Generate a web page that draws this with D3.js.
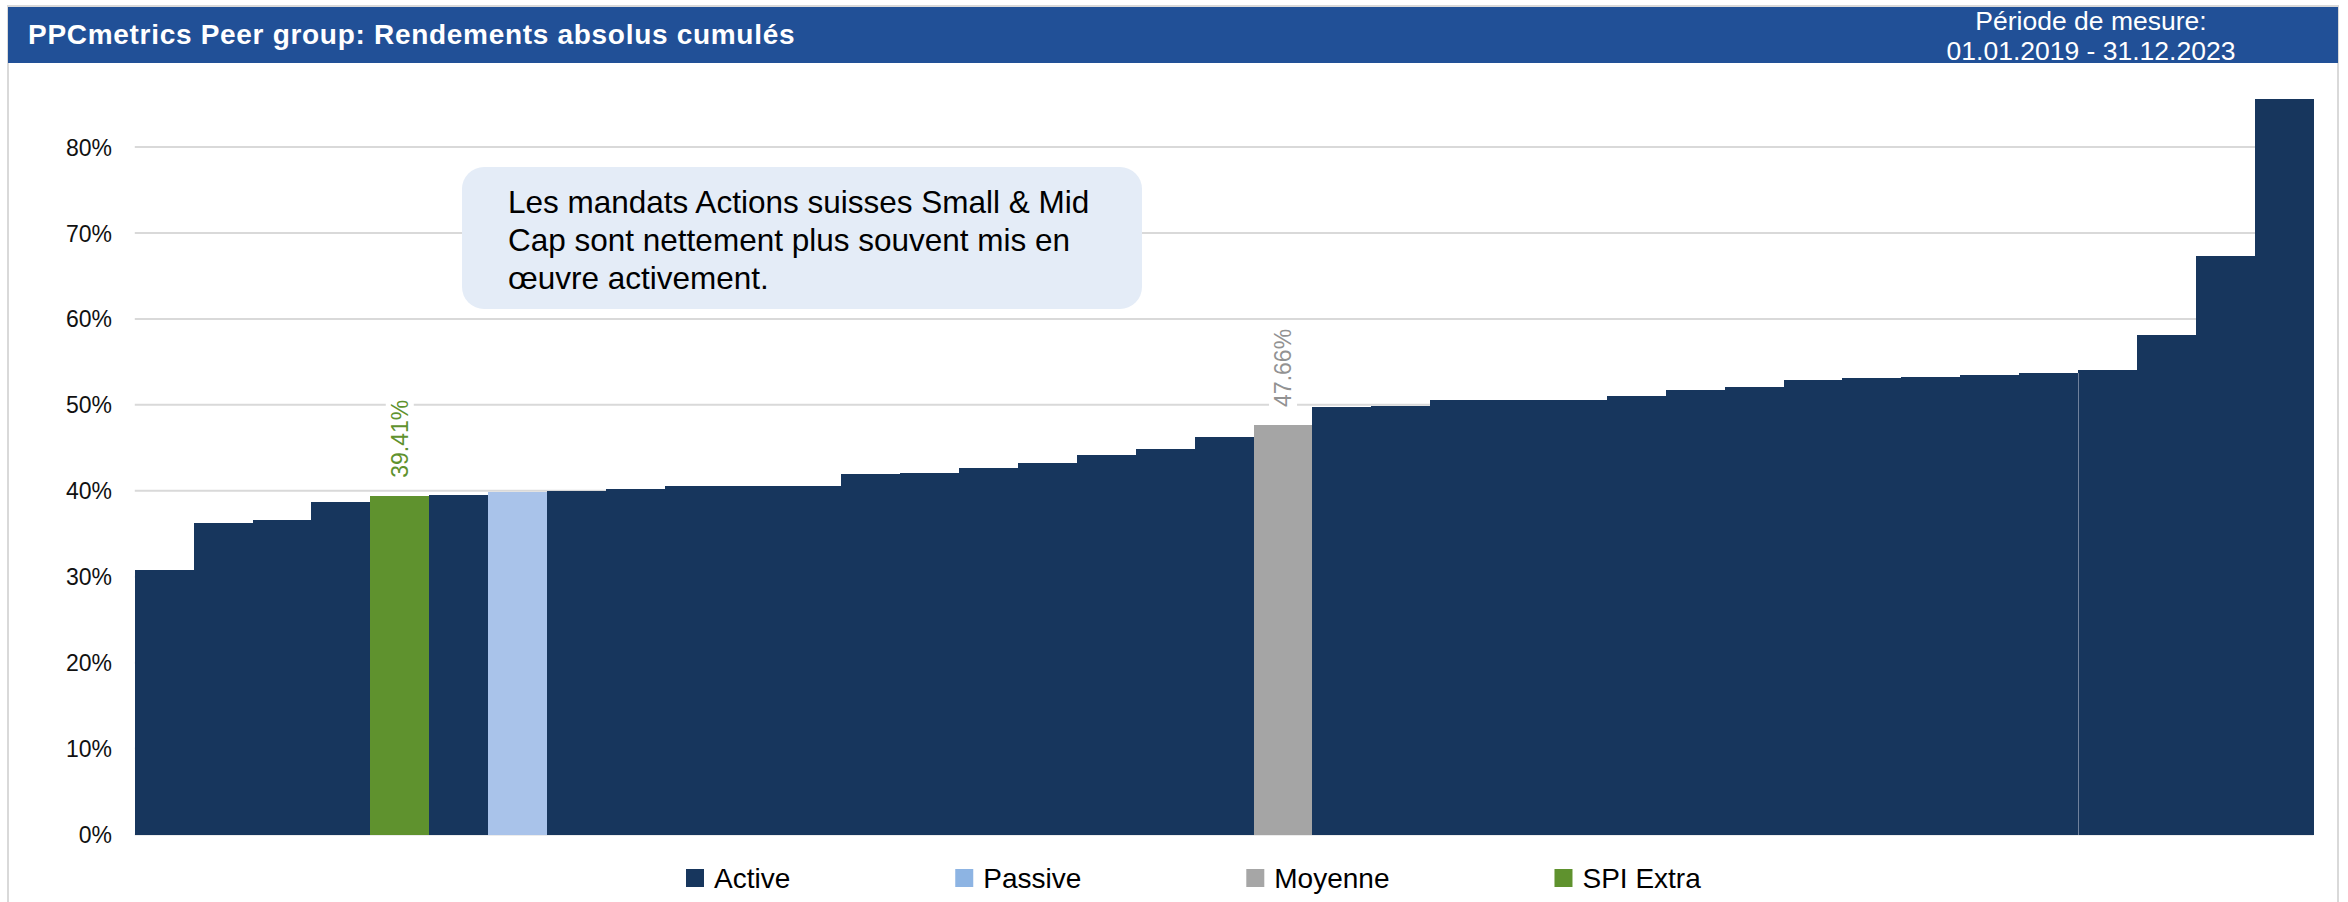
<!DOCTYPE html>
<html><head><meta charset="utf-8">
<script src="https://cdn.jsdelivr.net/npm/d3@7/dist/d3.min.js"></script>
<style>
body{margin:0;background:#fff;}
svg{display:block;font-family:"Liberation Sans",Arial,Helvetica,sans-serif;}
</style>
</head><body>
<svg id="chart" width="2348" height="902"></svg>
<script>
// ---------- DATA ----------
const title = "PPCmetrics Peer group: Rendements absolus cumulés";
const periodLines = ["Période de mesure:", "01.01.2019 - 31.12.2023"];
const noteLines = ["Les mandats Actions suisses Small & Mid", "Cap sont nettement plus souvent mis en", "œuvre activement."];
const seriesNames = ["Active", "Passive", "Moyenne", "SPI Extra"];
// cumulative absolute returns (%), sorted ascending
const values = [30.8, 36.2, 36.6, 38.7, 39.41, 39.5, 39.8, 40.0, 40.2, 40.5,
                40.6, 40.6, 42.0, 42.1, 42.7, 43.2, 44.2, 44.9, 46.3, 47.66,
                49.8, 49.9, 50.6, 50.6, 50.6, 51.0, 51.7, 52.1, 52.9, 53.1,
                53.2, 53.5, 53.7, 54.0, 58.1, 67.3, 85.6];
const barSeries = ["Active","Active","Active","Active","SPI Extra","Active","Passive","Active","Active","Active",
                   "Active","Active","Active","Active","Active","Active","Active","Active","Active","Moyenne",
                   "Active","Active","Active","Active","Active","Active","Active","Active","Active","Active",
                   "Active","Active","Active","Active","Active","Active","Active"];
const labelledSeries = ["SPI Extra", "Moyenne"];
const yTicks = [0, 10, 20, 30, 40, 50, 60, 70, 80];
const seamAfter = 32; // thin separator visible in the source between two bars

// ---------- STYLE ----------
const barColor = {"Active":"#17365d","Passive":"#a9c3ea","Moyenne":"#a5a5a5","SPI Extra":"#5f922e"};
const legendColor = {"Active":"#17365d","Passive":"#8db4e3","Moyenne":"#a6a6a6","SPI Extra":"#5f922e"};
const labelColor = {"SPI Extra":"#5f922e","Moyenne":"#929292"};

const svg = d3.select("#chart");
const plot = {left: 134.8, right: 2313.5, bottom: 834.5, top80: 147};

// frame
svg.append("rect").attr("x", 8).attr("y", 6).attr("width", 2330).attr("height", 900)
  .attr("fill", "#fff").attr("stroke", "#d9d9d9").attr("stroke-width", 2);

// header
svg.append("rect").attr("x", 8).attr("y", 7).attr("width", 2330).attr("height", 56).attr("fill", "#215097");
svg.append("text").attr("x", 28).attr("y", 44).attr("fill", "#fff")
  .attr("font-size", 28).attr("font-weight", "bold").attr("letter-spacing", 0.7).text(title);
svg.append("g").selectAll("text").data(periodLines).join("text")
  .attr("x", 2091).attr("y", (d, i) => 30 + i * 30).attr("text-anchor", "middle")
  .attr("fill", "#fff").attr("font-size", 26.5).text(d => d);

// scales
const x = d3.scaleBand().domain(d3.range(values.length)).range([plot.left, plot.right]).padding(0);
const y = d3.scaleLinear().domain([0, 80]).range([plot.bottom, plot.top80]);

// gridlines
svg.append("g").selectAll("line").data(yTicks).join("line")
  .attr("x1", plot.left).attr("x2", plot.right)
  .attr("y1", d => y(d)).attr("y2", d => y(d))
  .attr("stroke", "#d9d9d9").attr("stroke-width", 2);

// y axis
const yAxis = d3.axisLeft(y).tickValues(yTicks).tickSize(0).tickPadding(0).tickFormat(d => d + "%");
const ya = svg.append("g").attr("transform", "translate(112,0)").call(yAxis);
ya.select(".domain").remove();
ya.selectAll("text").attr("font-size", 23).attr("fill", "#111")
  .attr("font-family", '"Liberation Sans",Arial,sans-serif').attr("dy", "0.35em");

// bars (snapped to whole pixels so neighbours touch without seams)
svg.append("g").attr("shape-rendering", "crispEdges").selectAll("rect").data(values).join("rect")
  .attr("x", (d, i) => Math.round(x(i)))
  .attr("width", (d, i) => Math.round(x(i) + x.bandwidth()) - Math.round(x(i)))
  .attr("y", d => Math.round(y(d))).attr("height", d => Math.round(y(0)) - Math.round(y(d)))
  .attr("fill", (d, i) => barColor[barSeries[i]]);

// thin separator seen in the source
const sx = Math.round(x(seamAfter + 1)) + 0.5;
svg.append("line").attr("x1", sx).attr("x2", sx)
  .attr("y1", Math.round(y(values[seamAfter]))).attr("y2", Math.round(y(0)))
  .attr("stroke", "#6f819c").attr("stroke-width", 1);

// value labels (rotated)
const labelled = values.map((v, i) => ({v, i, s: barSeries[i]})).filter(d => labelledSeries.includes(d.s));
const lg = svg.append("g").selectAll("g").data(labelled).join("g")
  .attr("transform", d => `translate(${x(d.i) + x.bandwidth() / 2},${y(d.v) - 18}) rotate(-90)`);
lg.append("rect").attr("class", "bg").attr("fill", "#fff");
lg.append("text").attr("font-size", 23).attr("dominant-baseline", "central")
  .attr("fill", d => labelColor[d.s]).text(d => d.v.toFixed(2) + "%");
lg.each(function() {
  const g = d3.select(this);
  const bb = g.select("text").node().getBBox();
  g.select("rect").attr("x", bb.x - 4).attr("y", bb.y - 1).attr("width", bb.width + 8).attr("height", bb.height + 2);
});

// annotation box
svg.append("rect").attr("x", 462).attr("y", 167).attr("width", 680).attr("height", 142)
  .attr("rx", 22).attr("fill", "#e4ecf7");
svg.append("g").selectAll("text").data(noteLines).join("text")
  .attr("x", 508).attr("y", (d, i) => 213 + i * 38)
  .attr("font-size", 31.5).attr("fill", "#000").text(d => d);

// legend
const leg = svg.append("g");
let lx = 686;
seriesNames.forEach(name => {
  const g = leg.append("g").attr("transform", `translate(${lx},0)`);
  g.append("rect").attr("x", 0).attr("y", 869).attr("width", 18).attr("height", 18).attr("fill", legendColor[name]);
  const t = g.append("text").attr("x", 28).attr("y", 878).attr("dominant-baseline", "central")
    .attr("font-size", 28).attr("fill", "#000").text(name);
  lx += 28 + t.node().getComputedTextLength() + 165;
});
</script>
</body></html>
